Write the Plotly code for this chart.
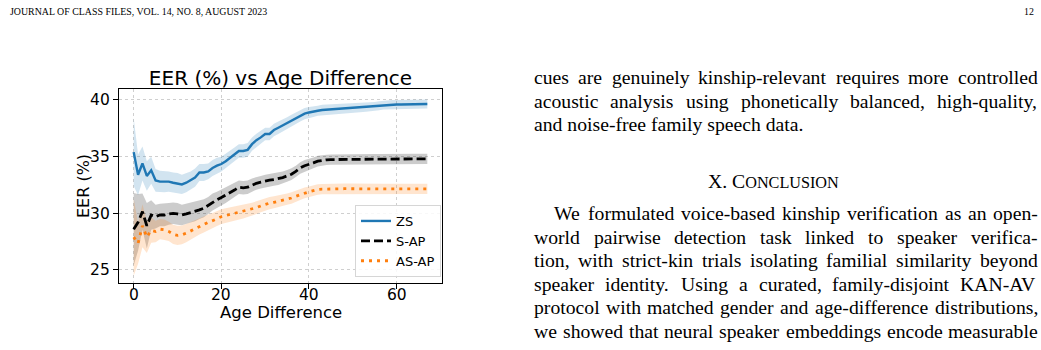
import plotly.graph_objects as go

# ---------------- data ----------------
ages = list(range(68))
zs = [35.4, 33.4, 34.4, 33.3, 33.8, 32.9, 32.8, 32.8, 32.8, 32.7,
      32.65, 32.55, 32.7, 32.9, 33.15, 33.6, 33.6, 33.7, 34.0, 34.2,
      34.35, 34.6, 34.9, 35.2, 35.5, 35.5, 35.6, 36.1, 36.45, 36.7,
      37.0, 37.0, 37.35, 37.55, 37.75, 37.95, 38.2, 38.4, 38.6, 38.8,
      38.9, 38.95, 39.05, 39.12, 39.15, 39.18, 39.2, 39.22, 39.24, 39.26,
      39.28, 39.31, 39.34, 39.37, 39.4, 39.43, 39.5, 39.55, 39.57, 39.6,
      39.6, 39.6, 39.61, 39.62, 39.62, 39.63, 39.64, 39.65]
zs_ci = [3.0, 1.8, 1.5, 1.3, 1.2, 1.0, 0.95, 0.95, 0.9, 0.9,
         0.9, 0.85, 0.85, 0.8, 0.8, 0.75, 0.75, 0.7, 0.7, 0.7,
         0.65, 0.65, 0.62, 0.6, 0.6, 0.6, 0.6, 0.58, 0.58, 0.56,
         0.55, 0.55, 0.55, 0.55, 0.52, 0.52, 0.5, 0.5, 0.5, 0.5,
         0.48, 0.46, 0.45, 0.45, 0.44, 0.44, 0.43, 0.43, 0.42, 0.42,
         0.42, 0.41, 0.41, 0.41, 0.4, 0.4, 0.4, 0.4, 0.4, 0.4,
         0.4, 0.4, 0.4, 0.4, 0.4, 0.4, 0.4, 0.4]
sap = [28.6, 29.2, 30.15, 28.9, 29.85, 29.7, 29.85, 29.85, 29.95, 30.0,
       29.95, 29.85, 29.95, 30.05, 30.15, 30.3, 30.45, 30.7, 31.0, 31.2,
       31.4, 31.6, 31.8, 32.05, 32.3, 32.25, 32.3, 32.5, 32.65, 32.75,
       32.85, 32.92, 32.98, 33.05, 33.15, 33.3, 33.45, 33.7, 34.0, 34.2,
       34.3, 34.45, 34.6, 34.68, 34.72, 34.74, 34.75, 34.75, 34.76, 34.76,
       34.76, 34.76, 34.77, 34.77, 34.77, 34.78, 34.78, 34.79, 34.79, 34.8,
       34.8, 34.8, 34.8, 34.8, 34.8, 34.8, 34.8, 34.8]
sap_ci = [3.2, 2.5, 1.6, 2.0, 1.3, 1.05, 1.0, 1.0, 0.95, 0.95,
          0.95, 0.9, 0.9, 0.85, 0.85, 0.8, 0.8, 0.75, 0.75, 0.7,
          0.7, 0.68, 0.65, 0.62, 0.6, 0.6, 0.6, 0.58, 0.56, 0.55,
          0.55, 0.55, 0.55, 0.55, 0.53, 0.52, 0.52, 0.5, 0.5, 0.5,
          0.5, 0.48, 0.48, 0.46, 0.45, 0.45, 0.45, 0.45, 0.45, 0.45,
          0.45, 0.45, 0.45, 0.45, 0.45, 0.45, 0.45, 0.45, 0.45, 0.45,
          0.45, 0.45, 0.45, 0.45, 0.45, 0.45, 0.45, 0.45]
asap = [27.9, 27.35, 28.9, 27.9, 28.5, 28.4, 28.6, 28.55, 28.4, 28.15,
        28.05, 28.1, 28.25, 28.45, 28.65, 28.85, 29.0, 29.2, 29.35, 29.55,
        29.7, 29.8, 29.9, 30.0, 30.05, 30.15, 30.25, 30.35, 30.5, 30.65,
        30.8, 30.9, 30.97, 31.05, 31.15, 31.25, 31.35, 31.5, 31.65, 31.8,
        31.9, 32.0, 32.1, 32.13, 32.15, 32.16, 32.17, 32.17, 32.17, 32.17,
        32.16, 32.16, 32.16, 32.16, 32.15, 32.15, 32.15, 32.15, 32.15, 32.15,
        32.15, 32.15, 32.15, 32.15, 32.15, 32.15, 32.15, 32.15]
asap_ci = [3.4, 1.8, 1.9, 1.4, 1.1, 0.95, 0.9, 0.9, 0.85, 0.85,
           0.85, 0.82, 0.8, 0.78, 0.76, 0.72, 0.7, 0.7, 0.68, 0.66,
           0.65, 0.64, 0.62, 0.62, 0.6, 0.6, 0.58, 0.58, 0.56, 0.55,
           0.55, 0.54, 0.53, 0.52, 0.52, 0.5, 0.5, 0.5, 0.48, 0.48,
           0.47, 0.46, 0.46, 0.45, 0.45, 0.45, 0.45, 0.45, 0.45, 0.45,
           0.45, 0.45, 0.45, 0.45, 0.45, 0.45, 0.45, 0.45, 0.45, 0.45,
           0.45, 0.45, 0.45, 0.45, 0.45, 0.45, 0.45, 0.45]
series_names = ["ZS", "S-AP", "AS-AP"]
x_ticks = [0, 20, 40, 60]
y_ticks = [25, 30, 35, 40]

chart_title = "EER (%) vs Age Difference"
x_label = "Age Difference"
y_label = "EER (%)"

header_left = "JOURNAL OF CLASS FILES, VOL. 14, NO. 8, AUGUST 2023"
header_right = "12"
para1_lines = [
    ("cues are genuinely kinship-relevant requires more controlled", True),
    ("acoustic analysis using phonetically balanced, high-quality,", True),
    ("and noise-free family speech data.", False),
]
section_head = ("X. C", "ONCLUSION")
para2_lines = [
    ("We formulated voice-based kinship verification as an open-", True),
    ("world pairwise detection task linked to speaker verifica-", True),
    ("tion, with strict-kin trials isolating familial similarity beyond", True),
    ("speaker identity. Using a curated, family-disjoint KAN-AV", True),
    ("protocol with matched gender and age-difference distributions,", True),
    ("we showed that neural speaker embeddings encode measurable", True),
]

# ---------------- page geometry ----------------
W, H = 1041, 350
def px(x):
    return x / W
def py(y):
    return 1 - y / H

fig = go.Figure()

BLUE = "#1f77b4"
ORANGE = "#ff7f0e"

def add_band(m, h, color):
    up = [a + b for a, b in zip(m, h)]
    lo = [a - b for a, b in zip(m, h)]
    fig.add_trace(go.Scatter(x=ages + ages[::-1], y=up + lo[::-1], fill="toself",
                             fillcolor=color, line=dict(width=0), mode="lines",
                             hoverinfo="skip", showlegend=False))

add_band(zs, zs_ci, "rgba(31,119,180,0.2)")
add_band(sap, sap_ci, "rgba(0,0,0,0.2)")
add_band(asap, asap_ci, "rgba(255,127,14,0.2)")

fig.add_trace(go.Scatter(x=ages, y=zs, mode="lines", name=series_names[0],
                         line=dict(color=BLUE, width=2.4)))
fig.add_trace(go.Scatter(x=ages, y=sap, mode="lines", name=series_names[1],
                         line=dict(color="black", width=2.8, dash="9px,4px")))
fig.add_trace(go.Scatter(x=ages, y=asap, mode="lines", name=series_names[2],
                         line=dict(color=ORANGE, width=2.8, dash="3px,5px")))

TICKFONT = dict(family="DejaVu Sans", size=15.5, color="black")
axis_common = dict(showline=True, linecolor="black", linewidth=1.2, mirror=True,
                   ticks="outside", ticklen=5, tickwidth=1.2, tickcolor="black",
                   showgrid=True, gridcolor="#cfcfcf", griddash="dot", gridwidth=1,
                   zeroline=False, tickfont=TICKFONT)

fig.update_layout(
    width=W, height=H, autosize=False,
    margin=dict(l=0, r=0, t=0, b=0),
    paper_bgcolor="white", plot_bgcolor="white",
    xaxis=dict(domain=[px(119), px(442)], range=[-3.35, 70.35], tickvals=x_ticks,
               showticklabels=False, **axis_common),
    yaxis=dict(domain=[py(283), py(89)], range=[23.85, 40.97], tickvals=y_ticks,
               **axis_common),
    title=dict(text=chart_title, x=px(280.5), xanchor="center",
               y=py(78), yanchor="middle", yref="paper",
               font=dict(family="DejaVu Sans", size=20, color="black")),
    legend=dict(x=px(441), xanchor="right", y=py(205), yanchor="top",
                bgcolor="rgba(255,255,255,0.85)", bordercolor="#d6d6d6", borderwidth=1,
                font=dict(family="DejaVu Sans", size=13, color="black"),
                tracegroupgap=0, itemwidth=30),
    showlegend=True,
)

# x tick labels (placed on the data axis at the tick values)
for t in x_ticks:
    fig.add_annotation(text=str(t), x=t, xref="x", y=py(294.5), yref="paper",
                       xanchor="center", yanchor="middle", showarrow=False,
                       font=TICKFONT, borderpad=0)

# axis titles
fig.add_annotation(text=x_label, x=px(280.5), y=py(312.5), xref="paper", yref="paper",
                   xanchor="center", yanchor="middle", showarrow=False, borderpad=0,
                   font=dict(family="DejaVu Sans", size=16.5, color="black"))
fig.add_annotation(text=y_label, x=px(83), y=py(186), xref="paper", yref="paper",
                   xanchor="center", yanchor="middle", showarrow=False, textangle=-90,
                   font=dict(family="DejaVu Sans", size=16, color="black"))

# ---------------- page text ----------------
TW = {' ': 250, '!': 333, '"': 408, '%': 833, '&': 778, "'": 333, '(': 333, ')': 333,
      ',': 250, '-': 333, '.': 250, '/': 278, ':': 278, ';': 278, '?': 444,
      'A': 722, 'B': 667, 'C': 667, 'D': 722, 'E': 611, 'F': 556, 'G': 722, 'H': 722,
      'I': 333, 'J': 389, 'K': 722, 'L': 611, 'M': 889, 'N': 722, 'O': 722, 'P': 556,
      'Q': 722, 'R': 667, 'S': 556, 'T': 611, 'U': 722, 'V': 722, 'W': 944, 'X': 722,
      'Y': 722, 'Z': 611, 'a': 444, 'b': 500, 'c': 444, 'd': 500, 'e': 444, 'f': 333,
      'g': 500, 'h': 500, 'i': 278, 'j': 278, 'k': 500, 'l': 278, 'm': 778, 'n': 500,
      'o': 500, 'p': 500, 'q': 500, 'r': 333, 's': 389, 't': 278, 'u': 500, 'v': 500,
      'w': 722, 'x': 500, 'y': 500, 'z': 444}
for d in "0123456789":
    TW[d] = 500

SERIF = "Liberation Serif"
BODY = 19.7
COL_L, COL_R = 532, 1036

def tw(s, size):
    return sum(TW.get(c, 500) for c in s) / 1000.0 * size

def add_text(txt, x, y, size, anchor="left"):
    fig.add_annotation(text=txt, x=px(x), y=py(y), xref="paper", yref="paper",
                       xanchor=anchor, yanchor="middle", showarrow=False,
                       font=dict(family=SERIF, size=size, color="black"))

def add_line(txt, y, justify, x0=COL_L):
    words = txt.split(" ")
    if not justify or len(words) == 1:
        add_text(txt, x0, y, BODY)
        return
    widths = [tw(w, BODY) for w in words]
    gap = (COL_R - x0 - sum(widths)) / (len(words) - 1)
    x = x0
    for w, wd in zip(words, widths):
        add_text(w, x, y, BODY)
        x += wd + gap

# header
add_text(header_left, 8, 12, 9.9)
add_text(header_right, 1036, 12, 9.9, anchor="right")

for (txt, j), y in zip(para1_lines, [77, 100.5, 124]):
    add_line(txt, y, j)

fig.add_annotation(text=section_head[0] + "<span style='font-size:16.2px'>" + section_head[1] + "</span>",
                   x=px(773.5), y=py(181), xref="paper", yref="paper", xanchor="center",
                   yanchor="middle", showarrow=False,
                   font=dict(family=SERIF, size=BODY, color="black"))

for i, ((txt, j), y) in enumerate(zip(para2_lines, [213.3, 236.8, 260.3, 283.8, 307.3, 330.8])):
    add_line(txt, y, j, x0=552 if i == 0 else COL_L)

fig.write_html("out.html")
